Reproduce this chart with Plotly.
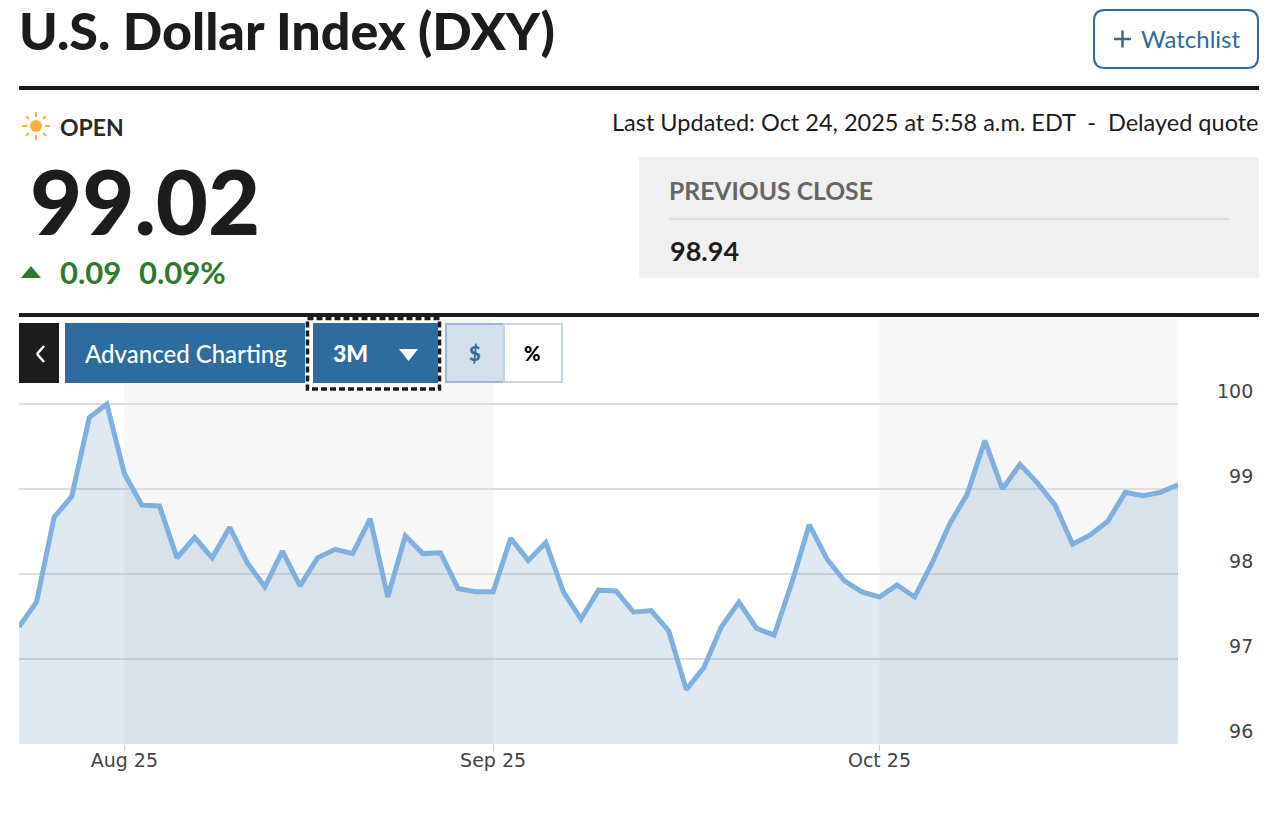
import pandas as pd
import plotly.graph_objects as go

TITLE = "U.S. Dollar Index (DXY)"
DATES = [d.strftime("%Y-%m-%d") for d in pd.bdate_range("2025-07-24", "2025-10-24")]
VALUES = [97.38, 97.67, 98.67, 98.91, 99.84, 100.0, 99.18, 98.81, 98.80, 98.19,
          98.43, 98.19, 98.55, 98.13, 97.85, 98.27, 97.86, 98.19, 98.29, 98.24,
          98.65, 97.73, 98.45, 98.24, 98.25, 97.83, 97.79, 97.79, 98.42, 98.16,
          98.37, 97.79, 97.47, 97.81, 97.80, 97.55, 97.57, 97.33, 96.64, 96.90,
          97.38, 97.67, 97.36, 97.28, 97.89, 98.58, 98.18, 97.92, 97.79, 97.73,
          97.87, 97.73, 98.13, 98.59, 98.94, 99.57, 99.00, 99.29, 99.07, 98.81,
          98.35, 98.46, 98.62, 98.96, 98.92, 98.96, 99.05]
X_TICK_DATES = ["2025-08-01", "2025-09-01", "2025-10-01"]
X_TICK_LABELS = ["Aug 25", "Sep 25", "Oct 25"]
Y_TICKS = [96, 97, 98, 99, 100]
Y_TICK_LABELS = ["\u200796", "\u200797", "\u200798", "\u200799", "100"]
BANDS = [("2025-08-01", "2025-09-01"), ("2025-10-01", "2025-10-24")]

L, R, T, B = 19, 1178, 319, 744
FONT = "Lato"
TICKFONT = "DejaVu Sans"
BLUE = "#2e6b9e"
INK = "#1c1c1c"

def px(x):
    return (x - L) / (R - L)

def py(y):
    return (B - y) / (B - T)

fig = go.Figure()
fig.add_trace(go.Scatter(
    x=DATES, y=VALUES, mode="lines", fill="tozeroy",
    fillcolor="rgba(46,107,160,0.15)",
    line=dict(color="#7fb0e0", width=5), hoverinfo="skip", showlegend=False,
))

shapes = []
for a, b in BANDS:
    shapes.append(dict(type="rect", xref="x", yref="paper", x0=a, x1=b, y0=0, y1=1,
                       fillcolor="#f7f7f7", line_width=0, layer="below"))

def rect(x0, y0, x1, y1, fill="rgba(0,0,0,0)", color=None, width=0, dash=None):
    line = dict(width=width)
    if color:
        line["color"] = color
    if dash:
        line["dash"] = dash
    shapes.append(dict(type="rect", xref="paper", yref="paper", x0=px(x0), x1=px(x1),
                       y0=py(y0), y1=py(y1), fillcolor=fill, line=line, layer="above"))

def seg(x0, y0, x1, y1, color, width):
    shapes.append(dict(type="line", xref="paper", yref="paper", x0=px(x0), x1=px(x1),
                       y0=py(y0), y1=py(y1), line=dict(color=color, width=width), layer="above"))

def poly(points, fill):
    d = "M" + " L".join(f"{px(x):.5f},{py(y):.5f}" for x, y in points) + " Z"
    shapes.append(dict(type="path", xref="paper", yref="paper", path=d, fillcolor=fill,
                       line_width=0, layer="above"))

# header rules
rect(19, 86, 1259, 90, INK)
rect(19, 313, 1259, 317, INK)

# watchlist button (rounded)
x0, y0, x1, y1, r = 1094, 10, 1258, 68, 11
d = (f"M{px(x0+r)},{py(y0)} L{px(x1-r)},{py(y0)} Q{px(x1)},{py(y0)} {px(x1)},{py(y0+r)} "
     f"L{px(x1)},{py(y1-r)} Q{px(x1)},{py(y1)} {px(x1-r)},{py(y1)} L{px(x0+r)},{py(y1)} "
     f"Q{px(x0)},{py(y1)} {px(x0)},{py(y1-r)} L{px(x0)},{py(y0+r)} Q{px(x0)},{py(y0)} {px(x0+r)},{py(y0)} Z")
shapes.append(dict(type="path", xref="paper", yref="paper", path=d, fillcolor="white",
                   line=dict(color=BLUE, width=2), layer="above"))
seg(1114, 39, 1131, 39, BLUE, 2.5)
seg(1122.5, 30.5, 1122.5, 47.5, BLUE, 2.5)

# sun icon
cx, cy = 36, 126
shapes.append(dict(type="circle", xref="paper", yref="paper", x0=px(cx-6), x1=px(cx+6),
                   y0=py(cy+6), y1=py(cy-6), fillcolor="#fbb03b", line_width=0, layer="above"))
for ax, ay, bx, by in [(0, -14, 0, -9), (0, 9, 0, 14), (-14, 0, -9, 0), (9, 0, 14, 0),
                       (-10, -10, -7, -7), (7, 7, 10, 10), (-10, 10, -7, 7), (7, -7, 10, -10)]:
    seg(cx+ax, cy+ay, cx+bx, cy+by, "#fbb03b", 2)

# change triangle
poly([(21, 278), (41, 278), (31, 266)], "#2e7a2e")

# previous close box
rect(639, 157, 1259, 278, "#f0f0f0")
seg(669, 219, 1229, 219, "#d6d6d6", 1.5)

# chart buttons
rect(19, 323, 59, 383, INK)
seg(44, 346, 37, 354, "white", 2.5)
seg(37, 354, 44, 362, "white", 2.5)
rect(65, 323, 305, 383, BLUE)
rect(307.5, 318.5, 439.5, 389, "white", INK, 3.5, "6px,3px")
rect(313, 323, 438, 383, BLUE)
poly([(399, 349), (418, 349), (408.5, 361)], "white")
rect(446, 324, 504, 382, "#d3e0ec", "#9fb8d3", 2)
rect(504, 324, 562, 382, "white", "#c5d5e5", 2)

ann = []

def text(x, y, s, size, color=INK, weight=400, anchor="left", family=FONT):
    shift = {"left": -2.5, "right": 3, "center": 0}[anchor]
    ann.append(dict(xref="paper", yref="paper", x=px(x + shift), y=py(y), text=s, showarrow=False,
                    xanchor=anchor, yanchor="middle", align=anchor,
                    font=dict(family=family, size=size, color=color, weight=weight)))

text(19, 30, TITLE, 52, INK, 900)
text(1141, 39, "Watchlist", 24, BLUE)
text(60, 127, "OPEN", 23, "#2a2a2a", 700)
text(1258, 122, "Last Updated: Oct 24, 2025 at 5:58 a.m. EDT \u00a0-\u00a0 Delayed quote", 23.5, INK, 400, "right")
text(30, 200, "99.02", 90, INK, 900)
text(60, 272, "0.09", 31, "#2e7a2e", 700)
text(139, 272, "0.09%", 31, "#2e7a2e", 700)
text(669, 190, "PREVIOUS CLOSE", 24.7, "#666666", 700)
text(670, 250, "98.94", 27, INK, 700)
text(85, 353, "Advanced Charting", 24, "white", 500)
text(333, 353, "3M", 23, "white", 900)
text(475, 353, "$", 20, BLUE, 900, "center")
text(532, 353, "%", 20, "black", 900, "center")

fig.update_layout(
    width=1274, height=820, paper_bgcolor="white", plot_bgcolor="white",
    margin=dict(l=L, r=1274 - R, t=T, b=820 - B), showlegend=False,
    shapes=shapes, annotations=ann,
    xaxis=dict(type="category", categoryorder="array", categoryarray=DATES,
               range=[0, len(DATES) - 1], tickmode="array",
               tickvals=X_TICK_DATES, ticktext=X_TICK_LABELS, ticks="outside", ticklen=6,
               tickwidth=1, tickcolor="#cccccc", showgrid=False, zeroline=False,
               showline=False, ticklabelstandoff=-7,
               tickfont=dict(family=TICKFONT, size=19, color="#444444")),
    yaxis=dict(side="right", range=[96, 101], tickmode="array", tickvals=Y_TICKS,
               ticktext=Y_TICK_LABELS, showgrid=True, gridcolor="#dedede", gridwidth=2,
               zeroline=False, showline=False, ticks="", ticklabelshift=-13, ticklabelstandoff=38,
               tickfont=dict(family=TICKFONT, size=19, color="#444444")),
)

fig.write_html("out.html", config={"displayModeBar": False},
               post_script="document.body.style.margin='0';")
